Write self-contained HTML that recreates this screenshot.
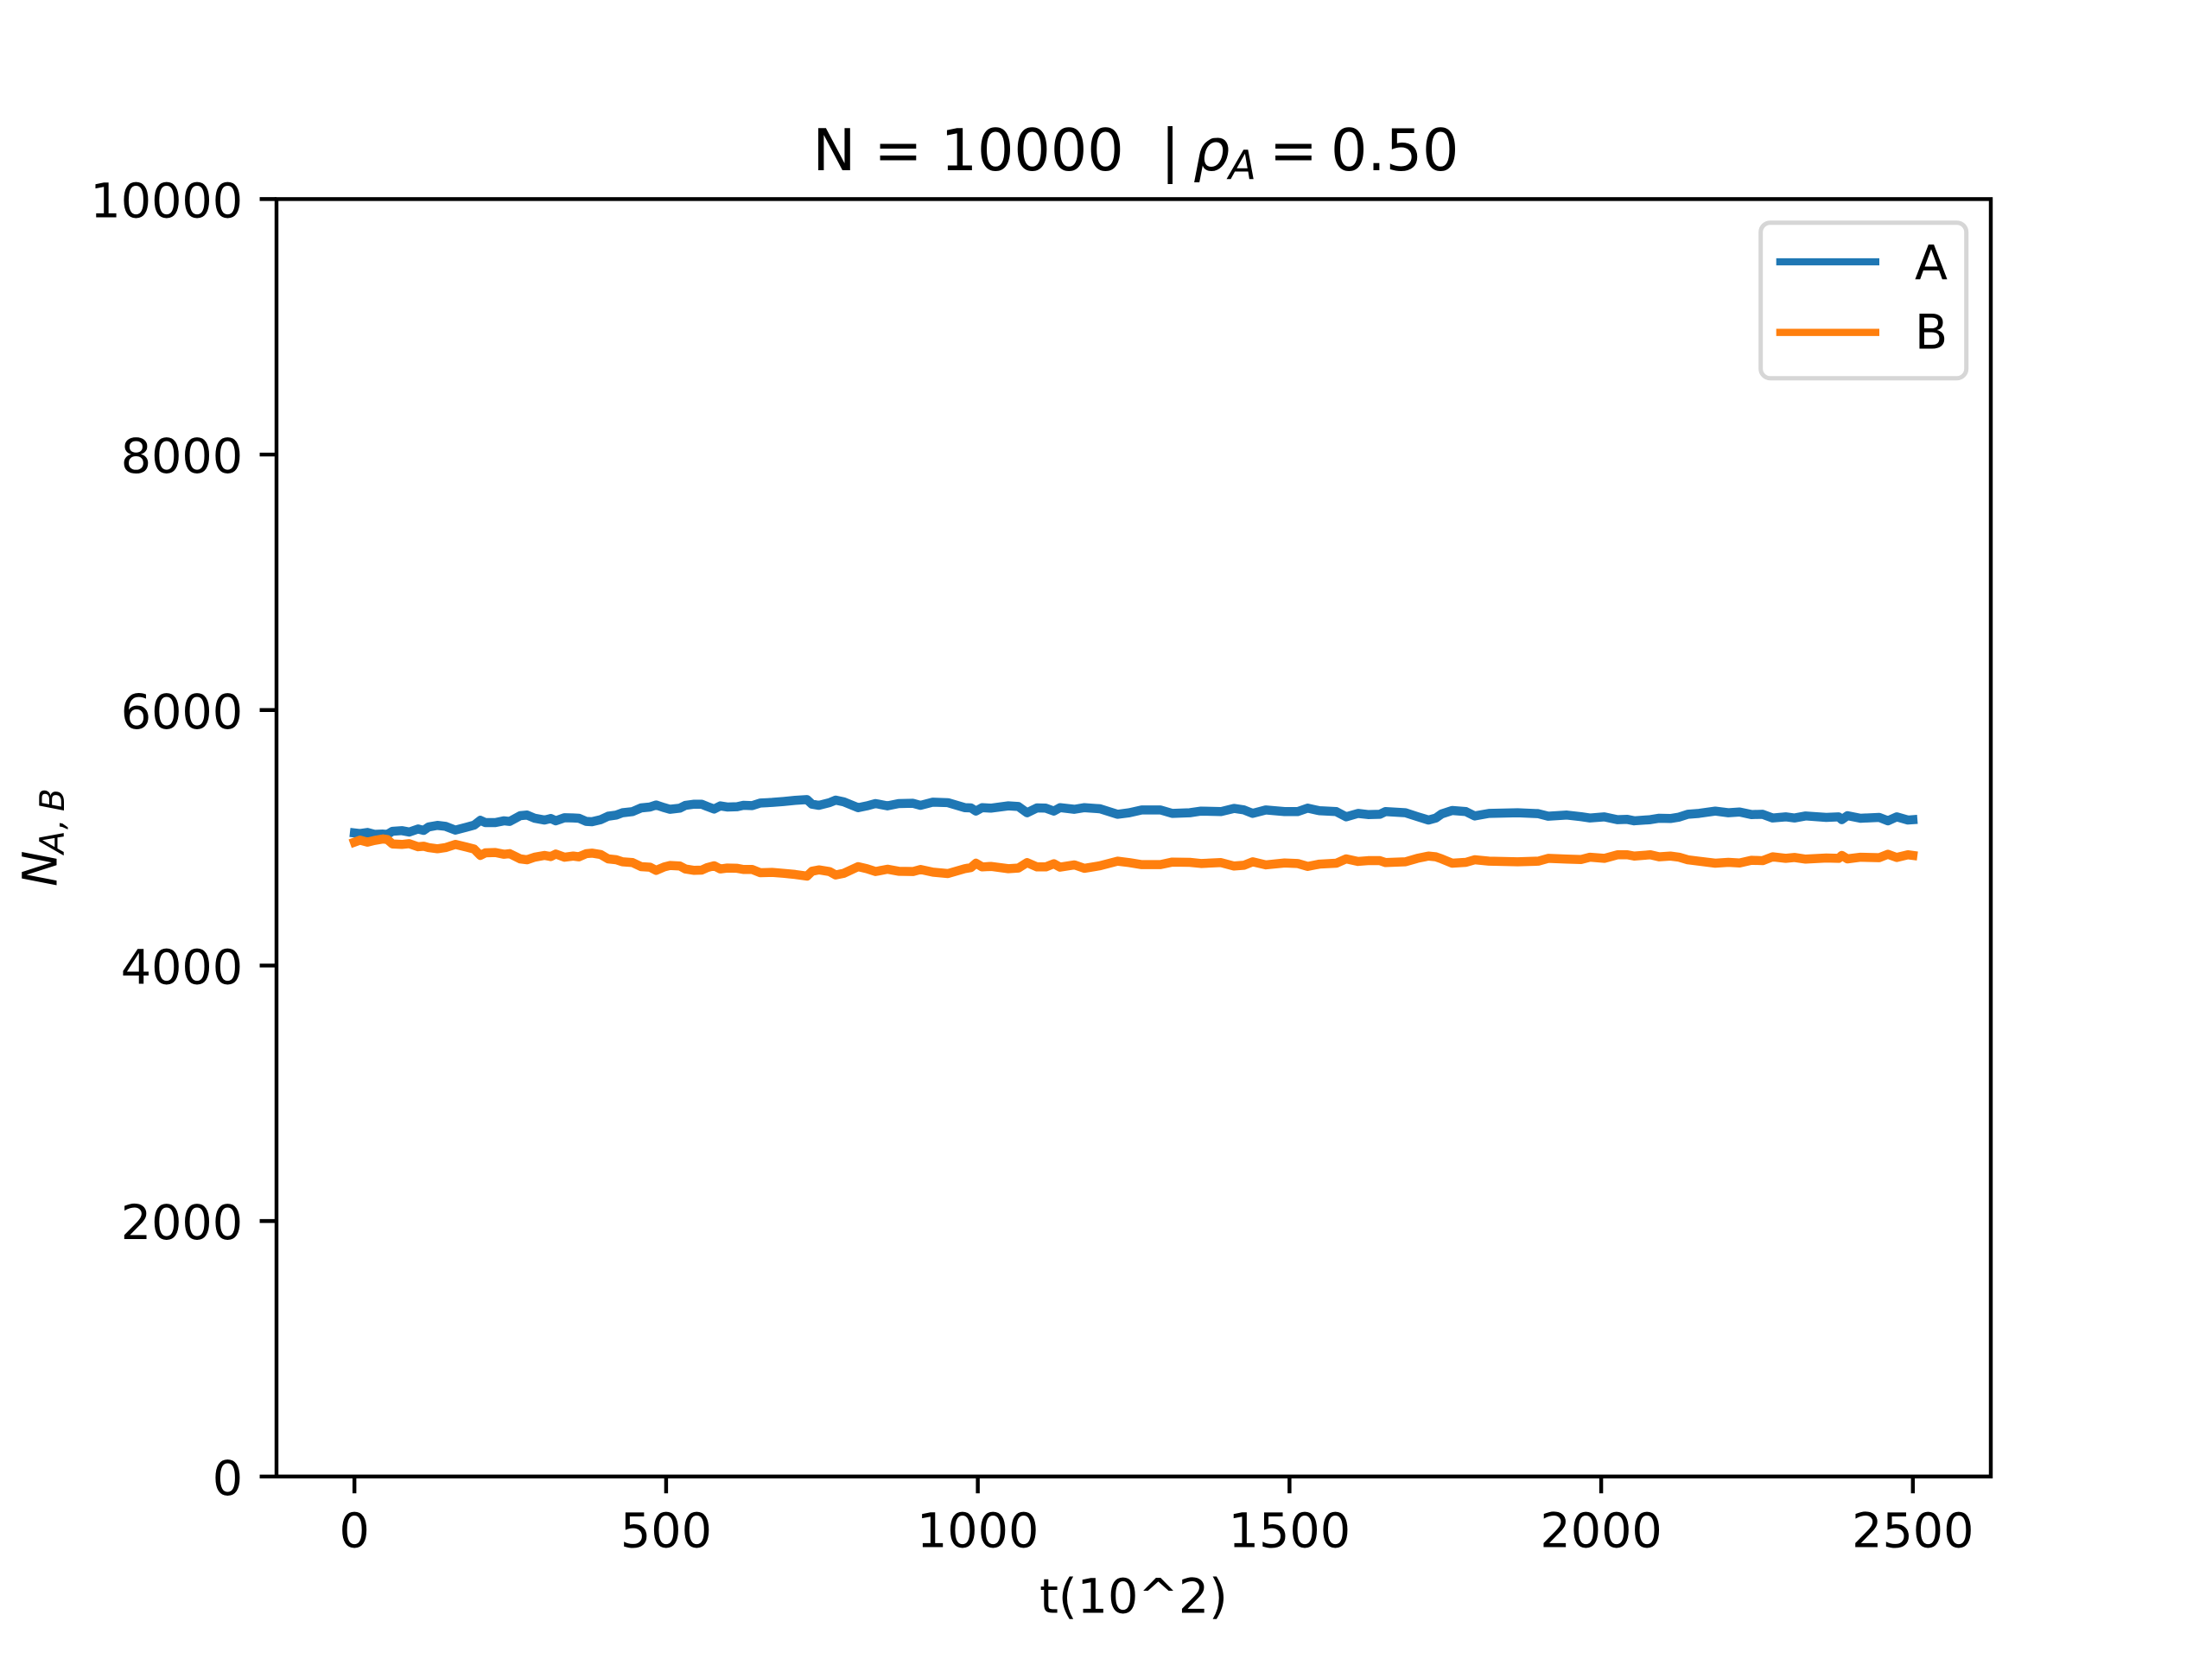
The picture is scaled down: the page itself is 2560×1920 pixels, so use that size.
<!DOCTYPE html>
<html lang="en">
<head>
<meta charset="utf-8">
<title>N = 10000 | rho_A = 0.50</title>
<style>
html,body{margin:0;padding:0;background:#fff;}
svg{display:block;}
text{font-family:"DejaVu Sans","Liberation Sans",sans-serif;fill:#000;white-space:pre;}
.tick-label,.axis-label,.legend-label{font-size:55.56px;}
.title{font-size:66.67px;}
.sub-title{font-size:46.67px;font-style:italic;}
.sub-y{font-size:38.89px;font-style:italic;}
.it{font-style:italic;}
</style>
</head>
<body>
<svg id="chart" xmlns="http://www.w3.org/2000/svg" width="2560" height="1920" viewBox="0 0 2560 1920">
  <rect x="0" y="0" width="2560" height="1920" fill="#ffffff"/>
  <g id="plot-marks"></g>
  <g id="ticks"></g>
  <rect x="320" y="230.4" width="1984" height="1478.4" fill="none" stroke="#000" stroke-width="4.44"/>

  <g>
    <text class="title" x="940.5" y="197">N = 10000  |</text>
    <text class="title it" x="1381" y="197">ρ</text>
    <text class="sub-title" x="1422" y="207">A</text>
    <text class="title" x="1469" y="197">=</text>
    <text class="title" x="1540" y="197">0.50</text>
  </g>

  <text class="axis-label" x="1312" y="1866.5" text-anchor="middle">t(10^2)</text>

  <g>
    <text class="axis-label it" transform="translate(65.5,1026) rotate(-90)">N</text>
    <text class="sub-y" transform="translate(74,988) rotate(-90)">A</text>
    <text class="sub-y" transform="translate(74,960) rotate(-90)">,</text>
    <text class="sub-y" transform="translate(74,939) rotate(-90)">B</text>
  </g>

  <g>
    <rect x="2037.7" y="257.7" width="238" height="180" rx="11" ry="11" fill="#ffffff" fill-opacity="0.8" stroke="#d6d6d6" stroke-width="5"/>
    <line x1="2055.7" y1="303" x2="2175" y2="303" stroke="#1f77b4" stroke-width="8.33"/>
    <text class="legend-label" x="2216" y="323.3">A</text>
    <line x1="2055.7" y1="384.7" x2="2175" y2="384.7" stroke="#ff7f0e" stroke-width="8.33"/>
    <text class="legend-label" x="2216" y="403.3">B</text>
  </g>
</svg>
<script>
const xTickValues = [0, 500, 1000, 1500, 2000, 2500];
const yTickValues = [0, 2000, 4000, 6000, 8000, 10000];
const times = [0,9,21,32,46,53,61,76,88,102,111,119,133,146,162,180,192,202,210,226,240,249,266,277,289,305,315,323,337,351,360,372,381,395,407,420,430,446,460,474,484,497,506,522,531,545,557,566,577,587,598,614,624,638,651,
670,688,707,726,734,745,762,772,785,808,822,836,855,873,896,908,928,952,979,989,997,1007,1021,1049,1065,1079,1095,1109,1122,1132,1155,1171,1196,1224,1243,1263,1293,1312,
1340,1358,1390,1411,1427,1441,1462,1492,1513,1529,1548,1575,1591,1610,1626,1645,1654,1686,1705,1723,1735,1744,1761,1783,1797,1820,1866,1899,1915,1945,1968,1982,
2005,2026,2042,2053,2079,2093,2111,2125,2139,2157,2183,2204,2222,2241,2259,2275,2296,2310,2328,2361,2381,2386,2395,2416,2446,2460,2474,2492,2500];
const seriesA = [5038,5033,5042,5027,5029,5027,5051,5056,5045,5069,5058,5085,5097,5090,5060,5083,5099,5137,5119,5119,5133,5128,5173,5178,5153,5139,5151,5133,5157,5155,5153,5128,5126,5142,5169,5178,5196,5205,5234,5241,5257,5236,5223,5232,5254,5263,5263,5245,5225,5250,5241,5243,5254,5252,5272,
5277,5284,5293,5299,5263,5254,5275,5295,5281,5236,5250,5268,5250,5268,5270,5254,5279,5275,5236,5234,5209,5236,5232,5250,5245,5196,5234,5232,5209,5236,5223,5236,5227,5184,5196,5218,5218,5191,
5196,5209,5205,5230,5218,5191,5218,5205,5205,5232,5212,5205,5164,5191,5182,5184,5205,5196,5166,5139,5155,5187,5214,5205,5171,5191,5196,5189,5169,5178,5165,5155,
5164,5142,5144,5133,5142,5153,5151,5162,5184,5191,5209,5196,5202,5182,5184,5155,5164,5155,5171,5160,5164,5142,5173,5153,5160,5133,5164,5139,5142];
const seriesB = [4966,4982,4966,4979,4991,4986,4952,4948,4954,4930,4934,4923,4914,4923,4948,4927,4912,4862,4882,4885,4871,4876,4835,4828,4848,4862,4853,4873,4848,4857,4851,4876,4880,4869,4835,4828,4812,4806,4774,4770,4745,4772,4783,4779,4756,4745,4747,4767,4781,4756,4763,4761,4752,4752,4727,
4729,4722,4713,4700,4738,4749,4736,4709,4722,4774,4758,4736,4754,4738,4736,4752,4731,4720,4758,4767,4801,4772,4776,4758,4763,4806,4772,4772,4797,4770,4788,4761,4781,4817,4806,4790,4790,4810,
4808,4799,4806,4779,4785,4812,4788,4803,4799,4776,4794,4801,4835,4815,4821,4821,4806,4812,4839,4857,4851,4835,4801,4808,4828,4817,4812,4817,4839,4833,4830,4848,
4839,4867,4867,4857,4867,4851,4857,4848,4828,4817,4801,4808,4803,4824,4821,4851,4839,4846,4833,4842,4839,4862,4835,4848,4844,4871,4846,4867,4862];

const SVG_NS = 'http://www.w3.org/2000/svg';
const axLeft = 320, axRight = 2304, axTop = 230.4, axBottom = 1708.8;
const xMin = -125, xMax = 2625, yMin = 0, yMax = 10000;
const tickLength = 19.44, tickPad = 19.44;

function xScale(t) { return axLeft + (t - xMin) / (xMax - xMin) * (axRight - axLeft); }
function yScale(v) { return axBottom - (v - yMin) / (yMax - yMin) * (axBottom - axTop); }

function linePath(ts, vs) {
  return ts.map(function (t, i) {
    return (i ? 'L' : 'M') + xScale(t).toFixed(2) + ' ' + yScale(vs[i]).toFixed(2);
  }).join('');
}

const marks = document.getElementById('plot-marks');
const ticks = document.getElementById('ticks');

const lineA = document.createElementNS(SVG_NS, 'path');


lineA.setAttribute('d', linePath(times, seriesA));
lineA.setAttribute('fill', 'none');
lineA.setAttribute('stroke', '#1f77b4');
lineA.setAttribute('stroke-width', '10.5');
lineA.setAttribute('stroke-linejoin', 'round');
lineA.setAttribute('stroke-linecap', 'square');
marks.appendChild(lineA);

const lineB = document.createElementNS(SVG_NS, 'path');


lineB.setAttribute('d', linePath(times, seriesB));
lineB.setAttribute('fill', 'none');
lineB.setAttribute('stroke', '#ff7f0e');
lineB.setAttribute('stroke-width', '10.5');
lineB.setAttribute('stroke-linejoin', 'round');
lineB.setAttribute('stroke-linecap', 'square');
marks.appendChild(lineB);

xTickValues.forEach(function (value) {
  const x = xScale(value);
  const mark = document.createElementNS(SVG_NS, 'line');
  
  
  mark.setAttribute('x1', x);
  mark.setAttribute('x2', x);
  mark.setAttribute('y1', axBottom);
  mark.setAttribute('y2', axBottom + tickLength);
  mark.setAttribute('stroke', '#000');
  mark.setAttribute('stroke-width', '4.44');
  ticks.appendChild(mark);
  const label = document.createElementNS(SVG_NS, 'text');
  
  
  label.setAttribute('class', 'tick-label');
  label.setAttribute('x', x);
  label.setAttribute('y', 1790.5);
  label.setAttribute('text-anchor', 'middle');
  label.textContent = String(value);
  ticks.appendChild(label);
});

yTickValues.forEach(function (value) {
  const y = yScale(value);
  const mark = document.createElementNS(SVG_NS, 'line');
  
  
  mark.setAttribute('x1', axLeft - tickLength);
  mark.setAttribute('x2', axLeft);
  mark.setAttribute('y1', y);
  mark.setAttribute('y2', y);
  mark.setAttribute('stroke', '#000');
  mark.setAttribute('stroke-width', '4.44');
  ticks.appendChild(mark);
  const label = document.createElementNS(SVG_NS, 'text');
  
  
  label.setAttribute('class', 'tick-label');
  label.setAttribute('x', axLeft - tickLength - tickPad);
  label.setAttribute('y', y + 21);
  label.setAttribute('text-anchor', 'end');
  label.textContent = String(value);
  ticks.appendChild(label);
});
</script>
</body>
</html>
